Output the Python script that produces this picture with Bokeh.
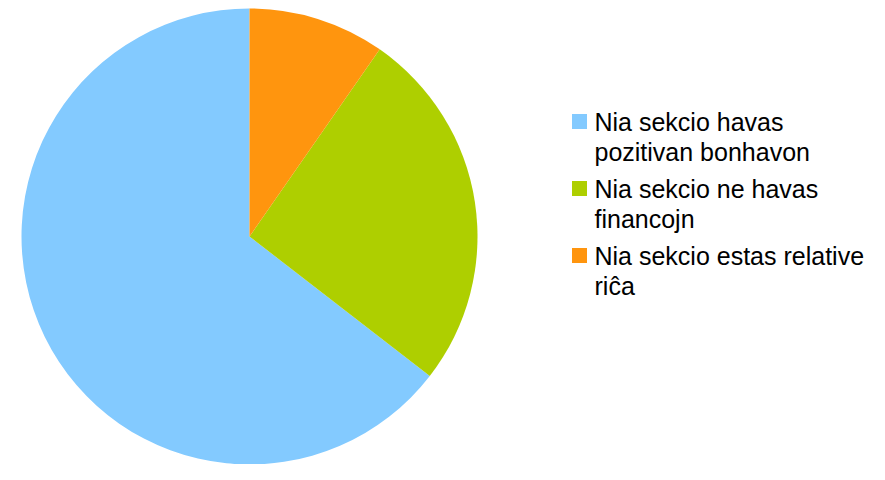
import math
from bokeh.plotting import figure
from bokeh.models import Range1d, ColumnDataSource
from bokeh.core.properties import value
from bokeh.embed import file_html
from bokeh.resources import INLINE

labels = ["Nia sekcio havas\npozitivan bonhavon",
          "Nia sekcio ne havas\nfinancojn",
          "Nia sekcio estas relative\nriĉa"]
values = [20, 8, 3]
colors = ["#83CAFF", "#AECF00", "#FF950E"]

W, H = 869, 464
p = figure(width=W, height=H, output_backend="svg", toolbar_location=None,
           x_range=Range1d(0, W), y_range=Range1d(0, H), min_border=0)
p.axis.visible = False
p.grid.visible = False
p.outline_line_color = None
p.background_fill_color = "white"

total = sum(values)
starts, ends = [], []
acc = 0.0
for v in values:
    starts.append(math.pi / 2 + 2 * math.pi * acc / total)
    acc += v
    ends.append(math.pi / 2 + 2 * math.pi * acc / total)

cx, cy, r = 249, H - 236, 228
src = ColumnDataSource(dict(start=starts, end=ends, color=colors))
p.wedge(x=cx, y=cy, radius=r, start_angle="start", end_angle="end",
        direction="anticlock", fill_color="color", line_color=None, source=src)

# legend
lx_sq, lx_txt = 579, 594
top = H - 121
line_h = 30
entry_gap = 7
sq_x, sq_y, sq_c = [], [], []
tx, ty, tt = [], [], []
y = top
for lab, c in zip(labels, colors):
    lines = lab.split("\n")
    sq_x.append(lx_sq); sq_y.append(y); sq_c.append(c)
    for i, ln in enumerate(lines):
        tx.append(lx_txt); ty.append(y - i * line_h); tt.append(ln)
    y -= len(lines) * line_h + entry_gap

p.scatter(x=sq_x, y=sq_y, marker="square", size=15, fill_color=sq_c, line_color=None)
p.text(x=tx, y=ty, text=tt, text_font=value("Liberation Sans"), text_font_size="25px",
       text_baseline="middle", text_align="left", text_color="black")

open("out.html", "w").write(file_html(p, INLINE))
